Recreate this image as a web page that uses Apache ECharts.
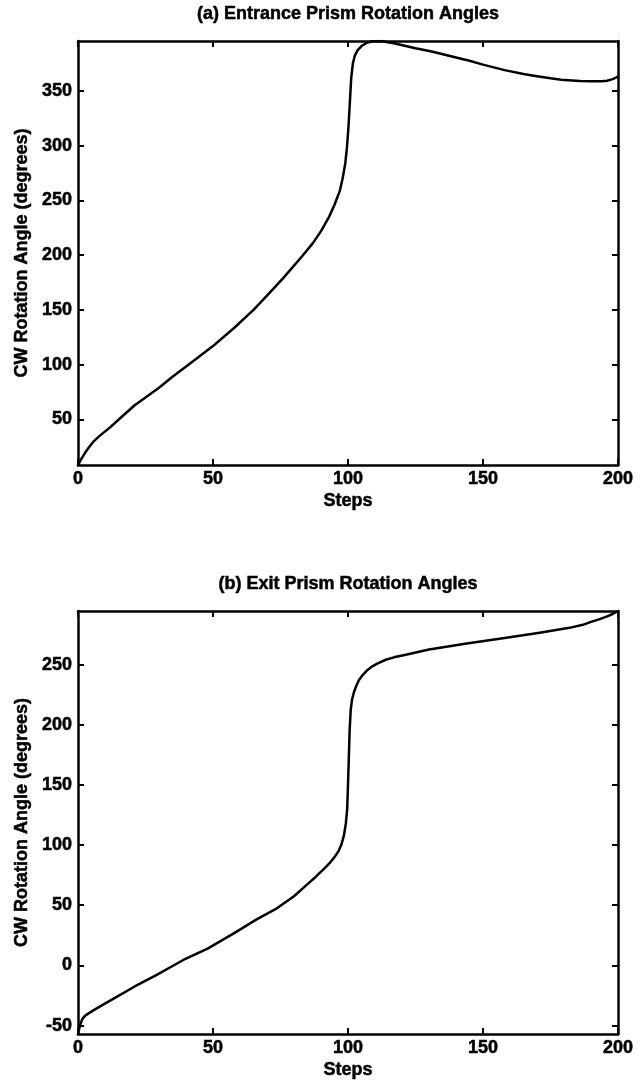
<!DOCTYPE html>
<html>
<head>
<meta charset="utf-8">
<title>Prism Rotation Angles</title>
<script src="https://cdn.jsdelivr.net/npm/echarts@6/dist/echarts.min.js"></script>
<style>
    html, body { margin: 0; padding: 0; background: #fff; }
    #chart { width: 643px; height: 1081px; }
</style>
</head>
<body>
<div id="chart"></div>
<script>
// (a) entrance prism
const stepsA = [0, 0.5, 1, 2, 3, 4.5, 6, 8, 12, 16, 21, 25, 30, 35, 42, 50, 58, 65, 70, 76, 83, 87, 90, 93, 95, 97, 98,
    99, 99.6, 100.2, 100.7, 101.2, 101.8, 102.5, 103.5, 105, 107, 109, 112, 117, 125, 131, 140, 145, 150, 158, 165, 170,
    175, 179, 183, 186, 190, 194, 196, 198, 200];
const angleA = [8.4, 10.5, 13, 17, 21, 26, 30.5, 35, 43, 52, 63, 70, 79, 89, 102, 117, 134, 150, 163, 179, 199, 211, 222,
    235, 246, 259, 270, 284, 298, 318, 340, 362, 375, 382, 387, 391, 394, 395.4, 395.6, 393.5, 389, 386, 380.5, 377.5, 374,
    369, 365.5, 363.5, 361.5, 360.3, 359.5, 359, 358.8, 358.8, 359.3, 360.8, 363];

// (b) exit prism
const stepsB = [0, 0.4, 0.8, 1.5, 2.5, 3.5, 6, 9, 14, 21, 29, 39, 48, 58, 66, 73, 80, 85, 88, 91, 93, 95, 96.5, 97.5, 98.5,
    99.2, 99.7, 100, 100.3, 100.6, 101, 101.5, 102.2, 103, 104, 105.5, 107, 109, 111, 114, 117, 121, 130, 144, 158, 171,
    182, 187, 190, 193, 196, 198, 200];
const angleB = [-57, -53, -49.5, -45, -42, -40.5, -37, -33, -26.5, -17.5, -8, 4.5, 14, 27, 38, 46.5, 57.5, 67.5, 73.5,
    80, 84.5, 90, 95, 100, 108, 118, 130, 150, 172, 195, 212, 221, 227, 232, 237, 241.5, 245, 248.5, 251, 254, 256, 258,
    262.5, 267.5, 272, 276.5, 280.5, 283, 285.5, 287.5, 290, 292, 294.5];

const stepTicks = [0, 50, 100, 150, 200];
const yTicksA = [50, 100, 150, 200, 250, 300, 350];
const yTicksB = [-50, 0, 50, 100, 150, 200, 250];

const titles = ['(a) Entrance Prism Rotation Angles', '(b) Exit Prism Rotation Angles'];

document.addEventListener('DOMContentLoaded', function() {
    const chart = echarts.init(document.getElementById('chart'));
    const font = '"Liberation Sans", Arial, sans-serif';
    const lineStyle = { color: '#000', width: 2.5 };
    // slightly heavier text, like the scanned original
    const textBase = { color: '#000', fontSize: 18, fontWeight: 'bold', fontFamily: font,
        textBorderColor: '#000', textBorderWidth: 0.5 };

    function pairs(xs, ys) {
        return xs.map((x, i) => [x, ys[i]]);
    }

    function xAxes(gridIndex) {
        return [{
            type: 'value', gridIndex: gridIndex, position: 'bottom',
            min: 0, max: 200, interval: 50,
            name: 'Steps', nameLocation: 'middle', nameGap: 27,
            nameTextStyle: textBase,
            axisLine: { show: true, onZero: false, lineStyle: lineStyle },
            axisTick: { show: true, inside: true, length: 6, lineStyle: { color: '#000', width: 2 } },
            axisLabel: Object.assign({ margin: 5, customValues: stepTicks }, textBase),
            splitLine: { show: false }
        }, {
            type: 'value', gridIndex: gridIndex, position: 'top',
            min: 0, max: 200, interval: 50,
            axisLine: { show: true, onZero: false, lineStyle: lineStyle },
            axisTick: { show: true, inside: true, length: 6, lineStyle: { color: '#000', width: 2 } },
            axisLabel: { show: false },
            splitLine: { show: false }
        }];
    }

    function yAxes(gridIndex, min, max, ticks) {
        return [{
            type: 'value', gridIndex: gridIndex, position: 'left',
            min: min, max: max,
            name: 'CW Rotation Angle (degrees)', nameLocation: 'middle', nameGap: 44,
            nameTextStyle: textBase,
            axisLine: { show: true, onZero: false, lineStyle: lineStyle },
            axisTick: { show: true, inside: true, length: 6, customValues: ticks,
                lineStyle: { color: '#000', width: 2 } },
            axisLabel: Object.assign({ margin: 6, customValues: ticks }, textBase),
            splitLine: { show: false }
        }, {
            type: 'value', gridIndex: gridIndex, position: 'right',
            min: min, max: max,
            axisLine: { show: true, onZero: false, lineStyle: lineStyle },
            axisTick: { show: true, inside: true, length: 6, customValues: ticks,
                lineStyle: { color: '#000', width: 2 } },
            axisLabel: { show: false },
            splitLine: { show: false }
        }];
    }

    const option = {
        animation: false,
        backgroundColor: '#fff',
        title: [
            { text: titles[0], left: 348, top: 5, textAlign: 'center', padding: 0, textStyle: textBase },
            { text: titles[1], left: 348, top: 575, textAlign: 'center', padding: 0, textStyle: textBase }
        ],
        grid: [
            { left: 78, top: 41, width: 540, height: 424 },
            { left: 78, top: 611, width: 540, height: 423 }
        ],
        xAxis: xAxes(0).concat(xAxes(1)),
        yAxis: yAxes(0, 8.4, 395.6, yTicksA).concat(yAxes(1, -57, 294.5, yTicksB)),
        series: [{
            type: 'line', xAxisIndex: 0, yAxisIndex: 0,
            data: pairs(stepsA, angleA),
            showSymbol: false, smooth: false,
            lineStyle: { color: '#000', width: 2.5, join: 'round', cap: 'round' }
        }, {
            type: 'line', xAxisIndex: 2, yAxisIndex: 2,
            data: pairs(stepsB, angleB),
            showSymbol: false, smooth: false,
            lineStyle: { color: '#000', width: 2.5, join: 'round', cap: 'round' }
        }]
    };

    chart.setOption(option);
});
</script>
</body>
</html>
